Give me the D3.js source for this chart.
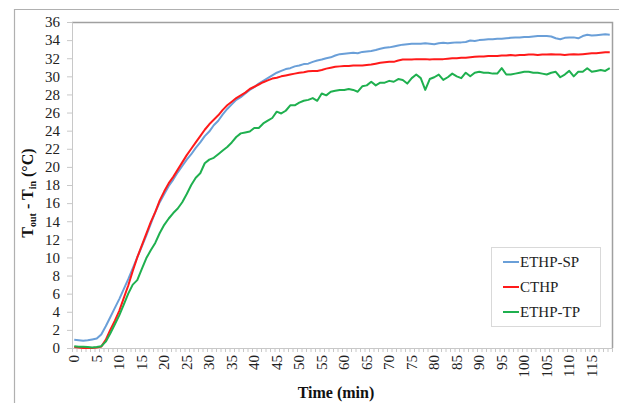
<!DOCTYPE html>
<html>
<head>
<meta charset="utf-8">
<script src="https://cdn.jsdelivr.net/npm/d3@7"></script>
<style>
  body { margin: 0; background: #fff; }
  svg { display: block; }
  svg text { font-family: "Liberation Serif", "Times New Roman", serif !important; }
</style>
</head>
<body>
<svg id="chart" width="619" height="403"></svg>
<script>
// minutes 0..119
var minutes = d3.range(0, 120);

var seriesNames = ["ETHP-SP", "CTHP", "ETHP-TP"];
var seriesColors = ["#6a9fd8", "#ff1a1a", "#1fb04f"];

var ethpSP = [
  0.90, 0.85, 0.80, 0.85, 0.95, 1.05, 1.50, 2.40, 3.40, 4.40,
  5.40, 6.50, 7.60, 8.80, 10.00, 11.20, 12.40, 13.70, 15.00, 16.10,
  17.00, 17.90, 18.60, 19.40, 20.10, 20.80, 21.40, 22.10, 22.70, 23.40,
  23.90, 24.60, 25.10, 25.80, 26.40, 26.90, 27.40, 27.70, 28.10, 28.50,
  28.80, 29.20, 29.50, 29.80, 30.10, 30.40, 30.60, 30.80, 30.90, 31.10,
  31.20, 31.35, 31.40, 31.60, 31.75, 31.85, 32.00, 32.10, 32.30, 32.45,
  32.50, 32.55, 32.60, 32.55, 32.70, 32.75, 32.80, 32.90, 33.05, 33.15,
  33.20, 33.30, 33.40, 33.50, 33.55, 33.60, 33.60, 33.60, 33.65, 33.60,
  33.55, 33.65, 33.70, 33.65, 33.70, 33.75, 33.75, 33.80, 33.95, 33.90,
  34.00, 34.05, 34.10, 34.10, 34.15, 34.15, 34.20, 34.25, 34.30, 34.30,
  34.35, 34.35, 34.40, 34.45, 34.45, 34.45, 34.40, 34.20, 34.10, 34.25,
  34.30, 34.30, 34.20, 34.45, 34.60, 34.50, 34.55, 34.60, 34.65, 34.60
];

var cthp = [
  0.10, 0.05, 0.00, 0.00, 0.00, 0.05, 0.15, 0.90, 2.00, 3.00,
  4.10, 5.50, 6.90, 8.50, 10.00, 11.30, 12.60, 13.90, 15.00, 16.30,
  17.30, 18.20, 18.90, 19.70, 20.50, 21.30, 22.00, 22.70, 23.40, 24.10,
  24.70, 25.20, 25.70, 26.30, 26.80, 27.20, 27.60, 27.90, 28.20, 28.60,
  28.85, 29.10, 29.35, 29.55, 29.75, 29.85, 30.00, 30.10, 30.20, 30.30,
  30.40, 30.45, 30.55, 30.60, 30.60, 30.70, 30.85, 30.95, 31.05, 31.10,
  31.15, 31.15, 31.20, 31.20, 31.20, 31.25, 31.30, 31.40, 31.50, 31.55,
  31.60, 31.60, 31.75, 31.85, 31.85, 31.85, 31.90, 31.90, 31.90, 31.85,
  31.90, 31.90, 31.90, 31.95, 32.00, 32.00, 32.05, 32.05, 32.10, 32.15,
  32.20, 32.20, 32.25, 32.25, 32.25, 32.30, 32.30, 32.35, 32.30, 32.35,
  32.35, 32.40, 32.40, 32.35, 32.40, 32.40, 32.45, 32.40, 32.40, 32.35,
  32.40, 32.45, 32.40, 32.45, 32.50, 32.55, 32.55, 32.60, 32.65, 32.65
];

var ethpTP = [
  0.20, 0.15, 0.15, 0.10, 0.05, 0.10, 0.20, 0.70, 1.60, 2.60,
  3.60, 4.80, 6.00, 7.00, 7.50, 8.70, 9.90, 10.80, 11.60, 12.70,
  13.60, 14.30, 14.90, 15.40, 16.10, 17.00, 18.00, 18.80, 19.30, 20.40,
  20.80, 21.00, 21.40, 21.80, 22.20, 22.70, 23.30, 23.70, 23.80, 23.90,
  24.30, 24.30, 24.80, 25.10, 25.40, 26.10, 25.90, 26.20, 26.80, 26.80,
  27.10, 27.30, 27.40, 27.60, 27.30, 28.10, 27.90, 28.30, 28.40, 28.50,
  28.50, 28.60, 28.50, 28.30, 28.90, 29.00, 29.40, 29.00, 29.30, 29.30,
  29.50, 29.40, 29.70, 29.60, 29.20, 29.80, 30.20, 29.80, 28.50, 29.70,
  29.90, 30.20, 29.60, 29.90, 30.30, 30.00, 29.80, 30.40, 30.00, 30.40,
  30.50, 30.40, 30.40, 30.30, 30.30, 30.90, 30.20, 30.20, 30.30, 30.40,
  30.50, 30.50, 30.40, 30.40, 30.30, 30.20, 30.40, 30.50, 29.90, 30.20,
  30.60, 30.00, 30.50, 30.50, 30.90, 30.50, 30.60, 30.70, 30.60, 30.90
];

var yTicks = d3.range(0, 37, 2);
var xLabelEvery = 5;

var svg = d3.select("#chart");
var mLeft = 72, mRight = 612, mTop = 22, mBottom = 348;

// outer chart frame (only top and left are inside the picture)
svg.append("path")
  .attr("d", "M14.5,403 L14.5,9.5 L619,9.5")
  .attr("fill", "none").attr("stroke", "#b0b0b0").attr("stroke-width", 1.2);

var x = d3.scaleBand().domain(minutes).range([mLeft, mRight]).padding(0);
var xEdge = d3.scaleLinear().domain([0, minutes.length]).range([mLeft, mRight]);
var y = d3.scaleLinear().domain([0, 36]).range([mBottom, mTop]);

// plot area border top/right
svg.append("path")
  .attr("d", "M" + mLeft + "," + (mTop + 0.5) + " L" + (mRight + 0.5) + "," + (mTop + 0.5) + " L" + (mRight + 0.5) + "," + mBottom)
  .attr("fill", "none").attr("stroke", "#a0a0a0").attr("stroke-width", 1.5);

// y axis
var gy = svg.append("g").attr("transform", "translate(" + mLeft + ",0)")
  .call(d3.axisLeft(y).tickValues(yTicks).tickSize(5).tickPadding(7));
gy.attr("font-family", null);
gy.select(".domain").attr("stroke", "#c8c8c8");
gy.selectAll(".tick line").attr("stroke", "#c8c8c8");
gy.selectAll("text").style("font-size", "15px").attr("fill", "#222");

// x axis minor ticks at category edges
var gxt = svg.append("g").attr("transform", "translate(0," + mBottom + ")")
  .call(d3.axisBottom(xEdge).tickValues(d3.range(0, minutes.length + 1)).tickSize(4).tickFormat(""));
gxt.select(".domain").attr("stroke", "#c8c8c8");
gxt.selectAll(".tick line").attr("stroke", "#c8c8c8");

// x labels
var gx = svg.append("g").attr("transform", "translate(0," + mBottom + ")")
  .call(d3.axisBottom(x).tickValues(minutes.filter(function(d){ return d % xLabelEvery === 0; })).tickSize(0).tickPadding(0));
gx.attr("font-family", null);
gx.select(".domain").remove();
gx.selectAll("text")
  .style("font-size", "15px").attr("fill", "#222")
  .attr("transform", "rotate(-90)")
  .attr("text-anchor", "end")
  .attr("x", -7).attr("y", 0).attr("dy", "0.33em");

// lines
var line = d3.line()
  .x(function(d, i){ return x(minutes[i]) + x.bandwidth() / 2; })
  .y(function(d){ return y(d); });

[ethpSP, cthp, ethpTP].forEach(function(vals, k){
  svg.append("path").datum(vals)
    .attr("d", line)
    .attr("fill", "none")
    .attr("stroke", seriesColors[k])
    .attr("stroke-width", 2)
    .attr("stroke-linejoin", "round");
});

// axis titles
svg.append("text")
  .attr("x", 336).attr("y", 398)
  .attr("text-anchor", "middle")
  .style("font-size", "16px").attr("font-weight", "bold").attr("fill", "#111")
  .text("Time (min)");

var yt = svg.append("text")
  .attr("transform", "translate(33,193) rotate(-90)")
  .attr("text-anchor", "middle")
  .style("font-size", "16px").attr("font-weight", "bold").attr("fill", "#111");
yt.append("tspan").text("T");
yt.append("tspan").style("font-size", "10px").attr("dy", 3).text("out");
yt.append("tspan").attr("dy", -3).text(" - T");
yt.append("tspan").style("font-size", "10px").attr("dy", 3).text("in");
yt.append("tspan").attr("dy", -3).text(" (°C)");

// legend
var lg = svg.append("g");
lg.append("rect")
  .attr("x", 491.5).attr("y", 247.5).attr("width", 109).attr("height", 79)
  .attr("fill", "#fff").attr("stroke", "#d9d9d9");
seriesNames.forEach(function(name, k){
  var ly = 262 + k * 25;
  lg.append("line")
    .attr("x1", 503).attr("x2", 519).attr("y1", ly).attr("y2", ly)
    .attr("stroke", seriesColors[k]).attr("stroke-width", 2);
  lg.append("text")
    .attr("x", 520).attr("y", ly).attr("dy", "0.35em")
    .style("font-size", "15px").attr("fill", "#222")
    .text(name);
});
</script>
</body>
</html>
